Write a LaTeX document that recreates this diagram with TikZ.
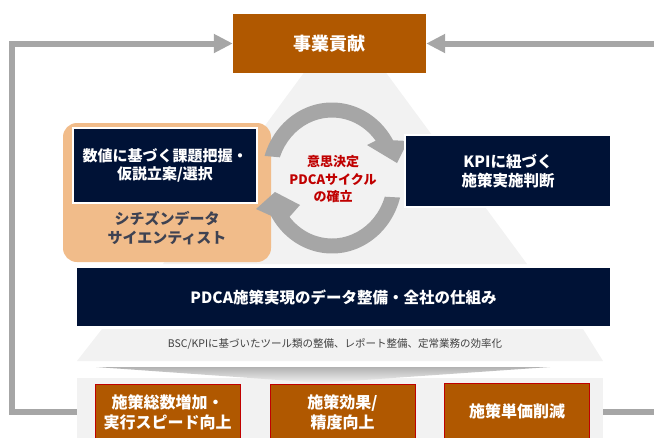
\documentclass[tikz,border=0pt]{standalone}
\usepackage{fontspec}
\setmainfont{Noto Sans CJK JP}
\usetikzlibrary{arrows.meta,calc}
\definecolor{accbrown}{RGB}{176,88,0}
\definecolor{navyc}{RGB}{0,18,54}
\definecolor{lgrey}{RGB}{242,242,242}
\definecolor{agrey}{RGB}{166,166,166}
\definecolor{peach}{RGB}{241,188,138}
\definecolor{redc}{RGB}{192,0,0}
\definecolor{txtgrey}{RGB}{64,64,64}
\definecolor{slate}{RGB}{62,66,82}
\begin{document}
\begin{tikzpicture}[x=1pt,y=-1pt,
  box/.style={inner sep=0pt, anchor=center, align=center},
  navybox/.style={box, fill=navyc, draw=white, line width=1.2pt, text=white},
  brownbox/.style={box, fill=accbrown, text=white},
  lowbox/.style={brownbox, draw=redc, line width=1pt, minimum width=145pt, minimum height=56pt,
    font=\bfseries\fontsize{16}{20}\selectfont},
  loopline/.style={draw=agrey, line width=6pt},
  tipA/.style={-{Triangle[length=19pt,width=18pt]}},
  cycfill/.style={fill=agrey}]
\useasboundingbox (0,0) rectangle (654,437);
\clip (0,0) rectangle (654,437);
% pyramid background
\fill[lgrey] (345,17) -- (527,264) -- (163,264) -- cycle;
\fill[lgrey] (102,329) -- (583,329) -- (603,361) -- (77,361) -- cycle;
\node[box, text=txtgrey, font=\fontsize{10.5}{12}\selectfont] (bsc) at (335,344)
  {BSC/KPIに基づいたツール類の整備、レポート整備、定常業務の効率化};
% base area
\node[box, fill=lgrey, minimum width=526pt, minimum height=67pt] (base) at (340,411.5) {};
\shade[top color=gray!60, bottom color=lgrey] (96,367) -- (550,367) -- (321,383) -- cycle;
% top box
\node[brownbox, minimum width=193pt, minimum height=59pt, font=\bfseries\fontsize{18}{20}\selectfont]
  (top) at (329.5,43.5) {事業貢献};
% loop lines
\coordinate (lc) at (11.7,411.5);
\coordinate (rb) at (664,411.5);
\coordinate (rt) at (664,43.5);
\draw[loopline, tipA] (base.west) -- (lc) |- (top.west);
\draw[loopline] (base.east) -- (rb);
\draw[loopline, tipA] (rt) -- (top.east);
% citizen data scientist
\fill[peach, rounded corners=14pt] (63,123) rectangle (271,262);
\node[box, text=slate, font=\bfseries\fontsize{15}{19}\selectfont] (cds) at (167,228.5)
  {シチズンデータ\\サイエンティスト};
\node[navybox, minimum width=184pt, minimum height=75pt, font=\bfseries\fontsize{15}{18}\selectfont]
  (num) at (165,165.5) {数値に基づく課題把握・\\仮説立案/選択};
% cycle arrows
\coordinate (cc) at (332,178);
\path[cycfill] ($(cc)+(200:55.5 and 60.5)$) arc[start angle=200, end angle=322, x radius=55.5, y radius=60.5]
  -- ($(cc)+(35,-33)$) -- ($(cc)+(65,-15)$) -- ($(cc)+(76,-37)$)
  -- ($(cc)+(330:70.5 and 75.5)$) arc[start angle=330, end angle=197, x radius=70.5, y radius=75.5] -- cycle;
\path[cycfill] ($(cc)+(18:55.5 and 60.5)$) arc[start angle=18, end angle=140, x radius=55.5, y radius=60.5]
  -- ($(cc)+(-32,27)$) -- ($(cc)+(-57,14)$) -- ($(cc)+(-76,31)$)
  -- ($(cc)+(150:70.5 and 75.5)$) arc[start angle=150, end angle=15, x radius=70.5, y radius=75.5] -- cycle;
\node[box, text=redc, font=\bfseries\fontsize{13}{17.5}\selectfont] (cyct) at (333,179.5)
  {意思決定\\PDCAサイクル\\の確立};
% KPI box
\node[navybox, minimum width=206pt, minimum height=72pt, font=\bfseries\fontsize{15.5}{19}\selectfont]
  (kpi) at (508,171) {KPIに紐づく\\施策実施判断};
% bar
\node[navybox, minimum width=535pt, minimum height=60pt, font=\bfseries\fontsize{15.5}{19}\selectfont]
  (bar) at (343.5,297) {PDCA施策実現のデータ整備・全社の仕組み};
% bottom boxes
\node[lowbox] (b1) at (167.5,412.5) {施策総数増加・\\実行スピード向上};
\node[lowbox] (b2) at (342.5,412) {施策効果/\\精度向上};
\node[lowbox] (b3) at (517,411.5) {施策単価削減};
\end{tikzpicture}
\end{document}
